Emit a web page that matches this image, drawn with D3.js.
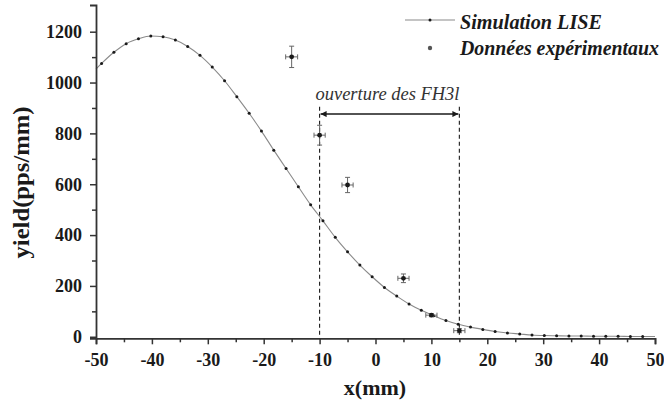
<!DOCTYPE html>
<html><head><meta charset="utf-8"><script src="https://cdn.jsdelivr.net/npm/d3@7"></script></head>
<body style="margin:0">
<svg id="chart" width="664" height="405"></svg>
<script>
// ---- data ----
const simX = [-49, -46.8, -44.6, -42.4, -40.2, -38, -35.8, -33.6, -31.4, -29.2, -27, -24.8, -22.6, -20.4, -18.2, -16, -13.8, -11.6, -9.4, -7.2, -5, -2.8, -0.6, 1.6, 3.8, 6, 8.2, 10.4, 12.6, 14.8, 17, 19.2, 21.4, 23.6, 25.8, 28, 30.2, 32.4, 34.6, 36.8, 39, 41.2, 43.4, 45.6, 47.8];
const simY = [1075, 1119, 1153, 1172, 1183, 1180, 1167, 1142, 1107, 1061, 1007, 944, 879, 809, 734, 662, 590, 519, 456, 391, 334, 282, 236, 194, 160, 129, 104, 83, 64, 49, 38, 29, 21, 15, 11, 7, 5, 4, 3, 3, 2, 2, 2, 1, 1];
const simEdgeX = [-50, 50];
const simEdgeY = [1053, 1];

const expX = [-15, -10, -5, 5, 10, 15];
const expY = [1101, 793, 597, 230, 85, 24];
const expErrY = [42, 39, 30, 17, 6, 8];
const expErrX = [1.07, 1.0, 1.0, 1.0, 1.0, 1.0];

const apertureX = [-10, 15];
const apertureTop = 905;
const arrowY = 876;

const xTicks = [-50, -40, -30, -20, -10, 0, 10, 20, 30, 40, 50];
const xMinor = [-45, -35, -25, -15, -5, 5, 15, 25, 35, 45];
const yTicks = [0, 200, 400, 600, 800, 1000, 1200];
const yMinor = [100, 300, 500, 700, 900, 1100];

const legendLabels = ["Simulation LISE", "Données expérimentaux"];
const xLabel = "x(mm)";
const yLabel = "yield(pps/mm)";
const apertureLabel = "ouverture des FH3l";

// ---- drawing ----
const fam = "Liberation Serif";
const SERIF = `"${fam}"`;
const svg = d3.select("#chart").style("font-family", SERIF);
const ink = "#1a1a1a";

const x = d3.scaleLinear().domain([-50, 50]).range([96, 655]);
const y = d3.scaleLinear().domain([-6, 1305]).range([338.3, 5]);

function txt(sel, size, weight, italic) {
  return sel.style("font-family", SERIF).style("font-size", size + "px")
    .style("font-weight", weight).style("font-style", italic ? "italic" : "normal");
}

// dashed aperture lines
svg.append("g").selectAll("line").data(apertureX).join("line")
  .attr("x1", d => x(d)).attr("x2", d => x(d))
  .attr("y1", y(apertureTop)).attr("y2", y(0))
  .attr("stroke", ink).attr("stroke-width", 1.1)
  .attr("stroke-dasharray", "4,3");

// arrow
const defs = svg.append("defs");
defs.append("marker").attr("id", "ah").attr("viewBox", "0 0 10 10")
  .attr("refX", 10).attr("refY", 5).attr("markerWidth", 11).attr("markerHeight", 6)
  .attr("markerUnits", "userSpaceOnUse").attr("orient", "auto-start-reverse")
  .append("path").attr("d", "M0,0 L10,5 L0,10 Z").attr("fill", ink);
svg.append("line")
  .attr("x1", x(apertureX[0]) + 1).attr("x2", x(apertureX[1]) - 1)
  .attr("y1", y(arrowY)).attr("y2", y(arrowY))
  .attr("stroke", ink).attr("stroke-width", 1.6)
  .attr("marker-start", "url(#ah)").attr("marker-end", "url(#ah)");
txt(svg.append("text"), 18, "normal", true)
  .attr("x", (x(apertureX[0]) + x(apertureX[1])) / 2 - 2).attr("y", 100)
  .attr("text-anchor", "middle")
  .attr("fill", "#333")
  .attr("textLength", 144).attr("lengthAdjust", "spacingAndGlyphs")
  .text(apertureLabel);

// simulation line
const simPts = simX.map((v, i) => [v, simY[i]]);
const linePts = [[simEdgeX[0], simEdgeY[0]], ...simPts, [simEdgeX[1], simEdgeY[1]]];
svg.append("path")
  .attr("d", d3.line().x(d => x(d[0])).y(d => y(d[1])).curve(d3.curveMonotoneX)(linePts))
  .attr("fill", "none").attr("stroke", "#8a8a8a").attr("stroke-width", 1.1);
svg.append("g").selectAll("circle").data(simPts).join("circle")
  .attr("cx", d => x(d[0])).attr("cy", d => y(d[1])).attr("r", 1.5)
  .attr("fill", ink);

// experimental points with error bars
const expG = svg.append("g");
expX.forEach((v, i) => {
  const cx = x(v), cy = y(expY[i]);
  const y1 = y(expY[i] + expErrY[i]), y2 = y(expY[i] - expErrY[i]);
  const x1 = x(v - expErrX[i]), x2 = x(v + expErrX[i]);
  const g = expG.append("g").attr("stroke", "#666").attr("stroke-width", 1);
  g.append("line").attr("x1", cx).attr("x2", cx).attr("y1", y1).attr("y2", y2);
  g.append("line").attr("x1", cx - 2.5).attr("x2", cx + 2.5).attr("y1", y1).attr("y2", y1);
  g.append("line").attr("x1", cx - 2.5).attr("x2", cx + 2.5).attr("y1", y2).attr("y2", y2);
  g.append("line").attr("x1", x1).attr("x2", x2).attr("y1", cy).attr("y2", cy);
  g.append("line").attr("x1", x1).attr("x2", x1).attr("y1", cy - 2.5).attr("y2", cy + 2.5);
  g.append("line").attr("x1", x2).attr("x2", x2).attr("y1", cy - 2.5).attr("y2", cy + 2.5);
  expG.append("circle").attr("cx", cx).attr("cy", cy).attr("r", 2.4).attr("fill", ink);
});

// axes
const xAxis = svg.append("g").attr("transform", `translate(0,${y(-6)})`)
  .call(d3.axisBottom(x).tickValues(xTicks).tickSize(6).tickPadding(9).tickFormat(d => String(d)));
svg.append("g").attr("transform", `translate(0,${y(-6)})`)
  .call(d3.axisBottom(x).tickValues(xMinor).tickSize(4).tickFormat(""))
  .call(g => g.select(".domain").remove());
const yAxis = svg.append("g").attr("transform", `translate(${x(-50)},0)`)
  .call(d3.axisLeft(y).tickValues(yTicks).tickSize(6).tickPadding(8).tickFormat(d => String(d)));
svg.append("g").attr("transform", `translate(${x(-50)},0)`)
  .call(d3.axisLeft(y).tickValues(yMinor).tickSize(4).tickFormat(""))
  .call(g => g.select(".domain").remove());

svg.selectAll("g").attr("font-family", null).attr("font-size", null);
svg.selectAll(".domain").attr("stroke", "#333").attr("stroke-width", 1.8);
svg.selectAll(".tick line").attr("stroke", "#333").attr("stroke-width", 1.5);
txt(svg.selectAll("g.tick text"), 18, "bold", false).attr("fill", ink);

// axis titles
txt(svg.append("text"), 22, "bold", false)
  .attr("x", 375).attr("y", 395).attr("text-anchor", "middle")
  .attr("fill", ink).text(xLabel);
txt(svg.append("text"), 23, "bold", false)
  .attr("transform", "translate(29,182.5) rotate(-90)")
  .attr("text-anchor", "middle")
  .attr("fill", ink)
  .attr("textLength", 152).attr("lengthAdjust", "spacingAndGlyphs")
  .text(yLabel);

// legend
const leg = svg.append("g");
leg.append("line").attr("x1", 405).attr("x2", 455).attr("y1", 20).attr("y2", 20)
  .attr("stroke", "#8a8a8a").attr("stroke-width", 1.1);
leg.append("circle").attr("cx", 430).attr("cy", 20).attr("r", 1.5).attr("fill", ink);
leg.append("circle").attr("cx", 430).attr("cy", 48).attr("r", 2.2).attr("fill", "#555");
const legY = [29, 55];
const legW = [142, 199];
txt(leg.selectAll("text").data(legendLabels).join("text"), 20, "bold", true)
  .attr("x", 460).attr("y", (d, i) => legY[i])
  .attr("fill", ink)
  .attr("textLength", (d, i) => legW[i]).attr("lengthAdjust", "spacingAndGlyphs")
  .text(d => d);
</script>
</body>
</html>
